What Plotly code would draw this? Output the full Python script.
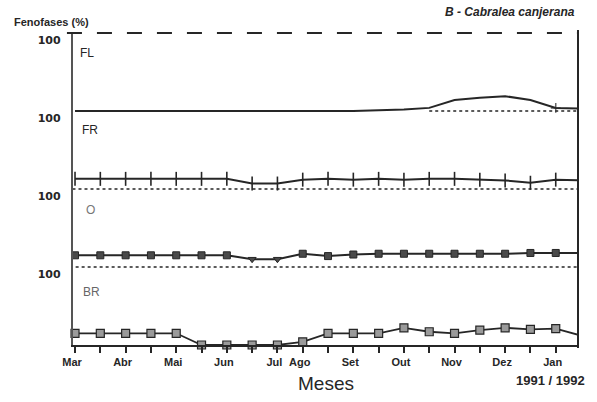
import plotly.graph_objects as go

# Biweekly samples, March 1991 to January 1992 (index 0..20)
amostras = list(range(21))
meses = ["Mar", "", "Abr", "", "Mai", "", "Jun", "", "Jul", "Ago",
         "", "Set", "", "Out", "", "Nov", "", "Dez", "", "Jan"]

# Percentage of individuals in each phenophase
fl = [0, 0, 0, 0, 0, 0, 0, 0, 0, 0, 0, 0, 1, 2, 4, 14, 17, 19, 14, 4, 3]
fr = [13, 13, 13, 13, 13, 13, 13, 7, 7, 12, 13, 12, 13, 12, 13, 13, 12, 11, 8, 12, 11]
o = [15, 15, 15, 15, 15, 15, 15, 10, 10, 17, 14, 16, 17, 17, 17, 17, 17, 17, 18, 18, 18]
br = [15, 15, 15, 15, 15, 0, 0, 0, 0, 4, 15, 15, 15, 22, 17, 15, 19, 22, 20, 21, 12]

fases = ["FL", "FR", "O", "BR"]
bases = [300, 200, 100, 0]   # each phase gets its own 0-100 band
escala_max = ["100", "100", "100", "100"]

INK = "#262626"
FONT = "Liberation Sans"

fig = go.Figure()

def banda(vals, b):
    return [v + b for v in vals]

# Dotted baselines of the bands
for b, x0 in [(300, 14), (200, -0.1), (100, -0.45)]:
    fig.add_trace(go.Scatter(
        x=[x0, 19.88], y=[b, b], mode="lines",
        line=dict(color=INK, width=1.4, dash="dot"),
        hoverinfo="skip", showlegend=False, cliponaxis=False))

# FL: plain line, one cross near the end
fig.add_trace(go.Scatter(
    x=amostras, y=banda(fl, bases[0]), mode="lines+markers",
    line=dict(color=INK, width=2),
    marker=dict(symbol="cross-thin", size=[0] * 19 + [7, 0],
                line=dict(color=INK, width=1.5)),
    showlegend=False, cliponaxis=False))

# FR: vertical tick markers
fig.add_trace(go.Scatter(
    x=amostras, y=banda(fr, bases[1]), mode="lines+markers",
    line=dict(color=INK, width=2),
    marker=dict(symbol="line-ns", size=10, line=dict(color=INK, width=1.6)),
    showlegend=False, cliponaxis=False))

# O: dark squares
sym_o = ["square"] * 21
sym_o[7] = "triangle-down"
sym_o[8] = "triangle-down"
fig.add_trace(go.Scatter(
    x=amostras, y=banda(o, bases[2]), mode="lines+markers",
    line=dict(color=INK, width=2),
    marker=dict(symbol=sym_o, size=7, color="#4a4a4a",
                line=dict(color=INK, width=1)),
    showlegend=False, cliponaxis=False))

# BR: grey squares
fig.add_trace(go.Scatter(
    x=amostras, y=banda(br, bases[3]), mode="lines+markers",
    line=dict(color=INK, width=1.8),
    marker=dict(symbol="square", size=8, color="#9a9a9a",
                line=dict(color=INK, width=1.2)),
    showlegend=False, cliponaxis=False))

# Band names
nomes_pos = [(0.47, 374), (0.59, 276), (0.63, 173), (0.67, 68)]
cores = [INK, INK, "#777777", "#666666"]
for nome, (xx, yy), c in zip(fases, nomes_pos, cores):
    fig.add_annotation(x=xx, y=yy, xref="x", yref="y", text=nome,
                       showarrow=False, xanchor="center", yanchor="middle",
                       font=dict(family=FONT, size=12, color=c))

fig.add_annotation(x=-0.121, y=1.035, xref="paper", yref="paper",
                   text="Fenofases (%)", showarrow=False,
                   xanchor="left", yanchor="middle",
                   font=dict(family=FONT, size=11, color=INK, weight="bold"))
fig.add_annotation(x=0.998, y=1.066, xref="paper", yref="paper",
                   text="<i>B - Cabralea canjerana</i>", showarrow=False,
                   xanchor="right", yanchor="middle",
                   font=dict(family=FONT, size=12, color=INK, weight="bold"))
fig.add_annotation(x=0.501, y=-0.122, xref="paper", yref="paper",
                   text="Meses", showarrow=False,
                   xanchor="center", yanchor="middle",
                   font=dict(family=FONT, size=19, color=INK))
fig.add_annotation(x=1.018, y=-0.115, xref="paper", yref="paper",
                   text="1991 / 1992", showarrow=False,
                   xanchor="right", yanchor="middle",
                   font=dict(family=FONT, size=13, color=INK, weight="bold"))

# Frame: dashed top edge, solid right edge
fig.add_shape(type="line", xref="paper", yref="paper",
              x0=-0.012, x1=1.0, y0=1.0, y1=1.0,
              line=dict(color=INK, width=2, dash="longdash"))
fig.add_shape(type="line", xref="paper", yref="paper",
              x0=1.0, x1=1.0, y0=-0.01, y1=1.01,
              line=dict(color=INK, width=2))

fig.update_xaxes(
    range=[-0.08, 19.88], tickmode="array",
    tickvals=list(range(20)), ticktext=meses,
    ticks="outside", ticklen=6, tickwidth=1.5, tickcolor=INK,
    showline=True, linewidth=1.6, linecolor=INK,
    showgrid=False, zeroline=False, ticklabelshift=-3,
    tickfont=dict(family=FONT, size=11, color=INK, weight="bold"))
fig.update_yaxes(
    range=[0, 400], tickmode="array",
    tickvals=[b + 100 for b in bases], ticktext=escala_max,
    ticks="", showline=True, linewidth=2.2, linecolor="#555555",
    showgrid=False, zeroline=False, ticklabelshift=7, ticklabelstandoff=8,
    tickfont=dict(family="DejaVu Sans", size=11, color=INK, weight="bold"))

fig.update_layout(
    width=597, height=402,
    margin=dict(l=73, r=19, t=33, b=57),
    paper_bgcolor="white", plot_bgcolor="white",
    showlegend=False)

fig.write_html("out.html")
